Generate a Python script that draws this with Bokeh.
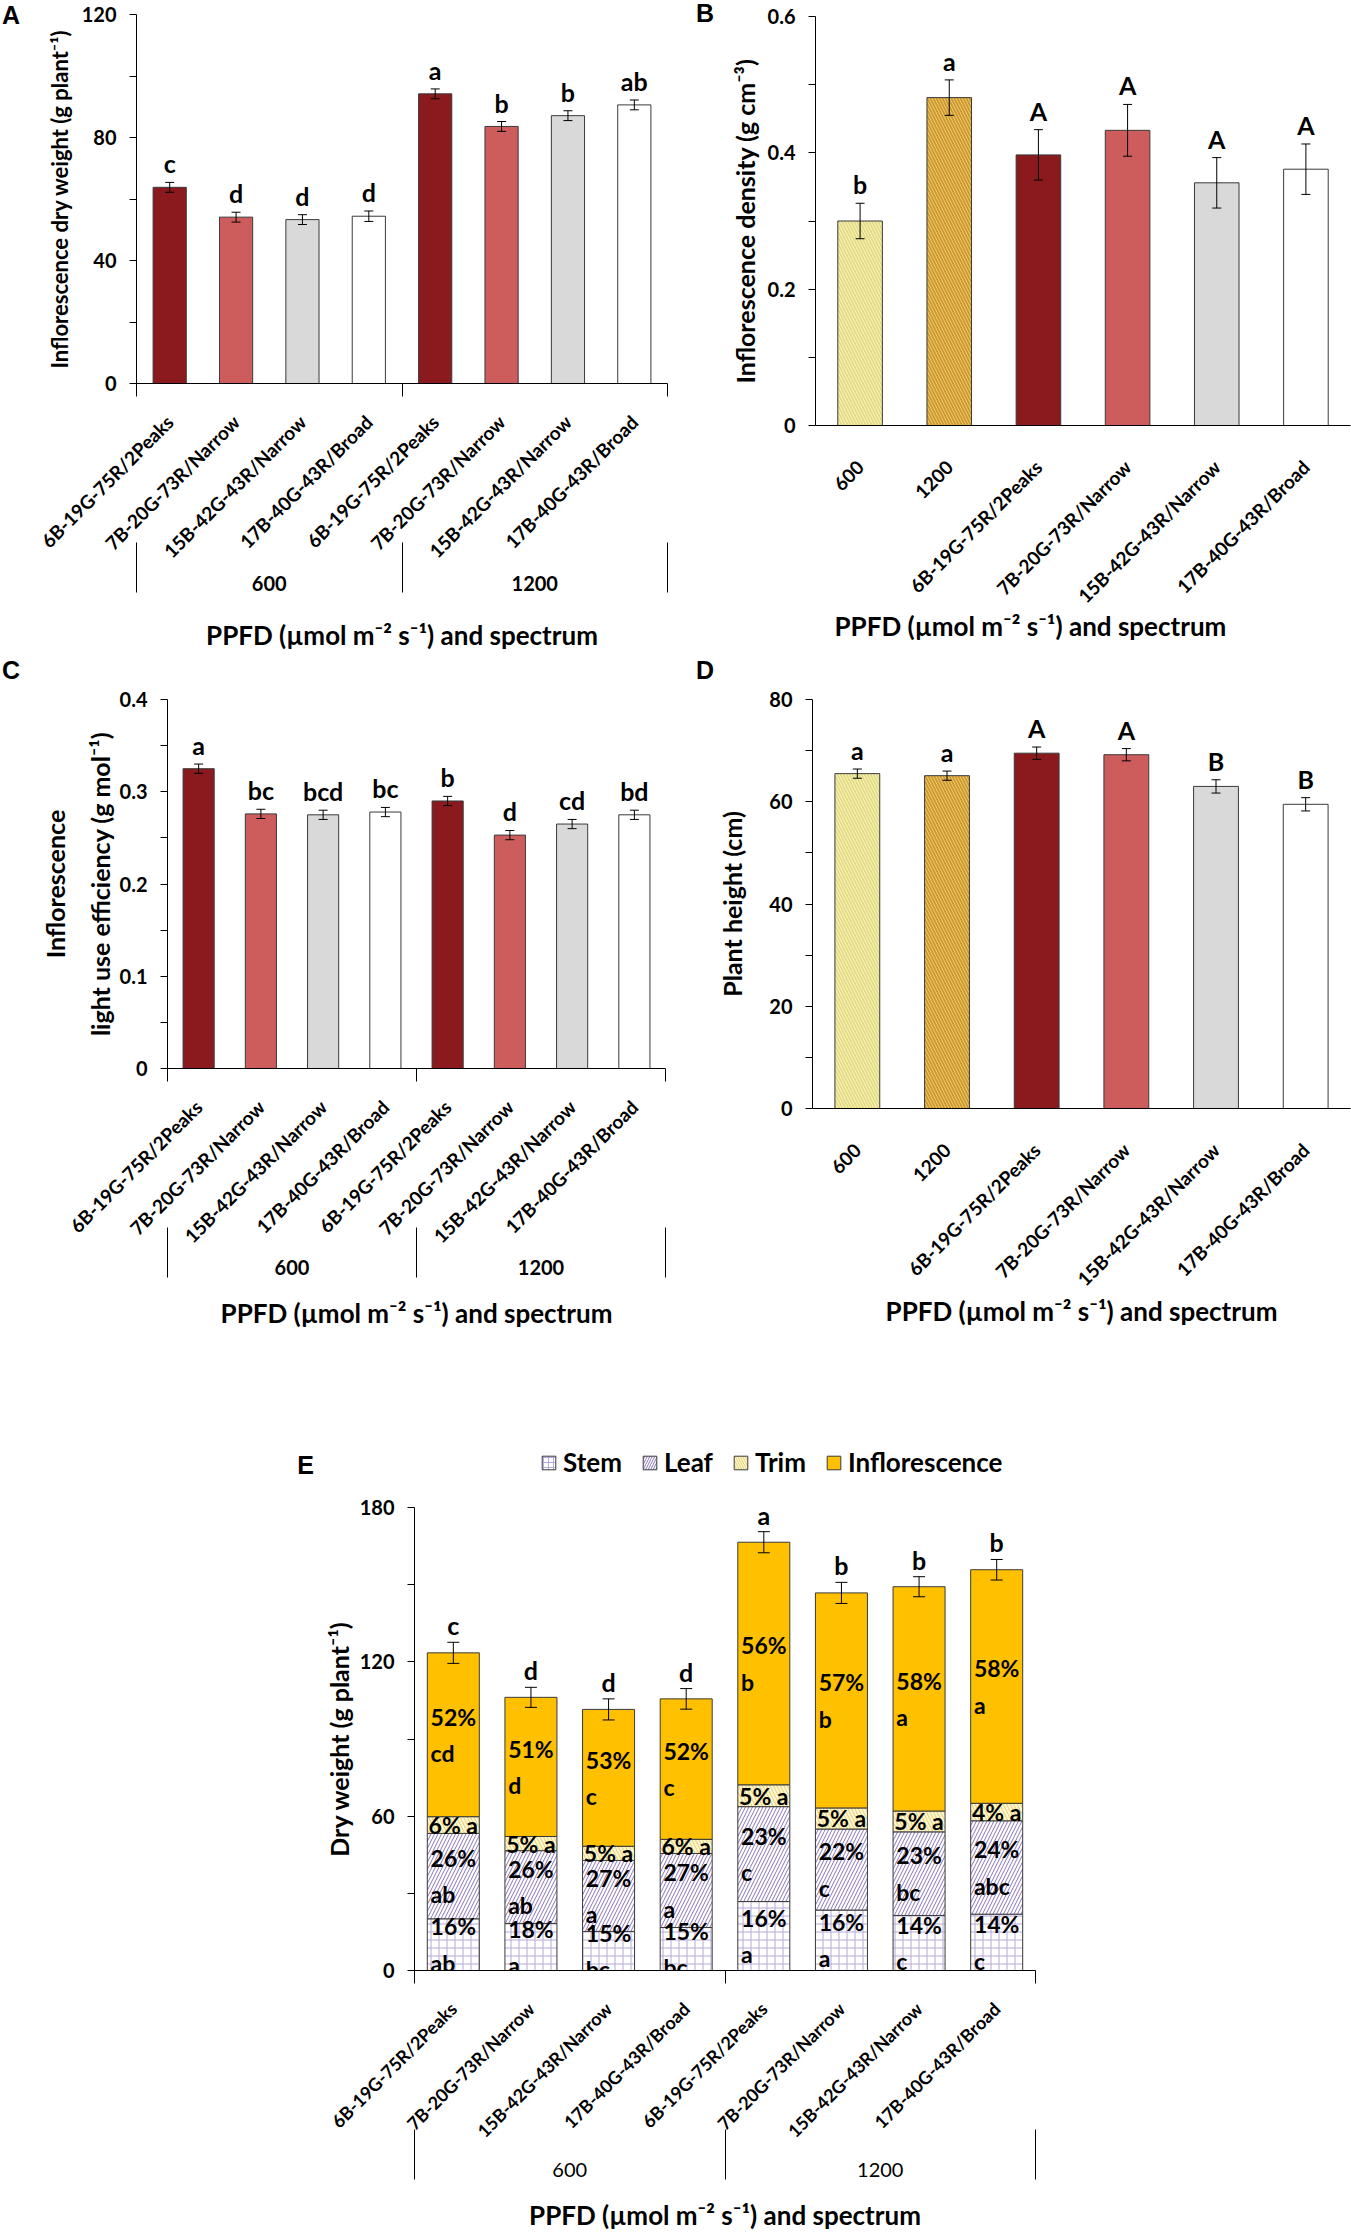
import numpy as np
from math import pi
from bokeh.plotting import figure
from bokeh.models import (Range1d, LinearAxis, FixedTicker, CustomJSTickFormatter, ColumnDataSource,
                          Whisker, TeeHead, LabelSet, Title, Legend, LegendItem, Div)
from bokeh.layouts import column, row
from bokeh.embed import file_html
from bokeh.resources import INLINE
from bokeh.core.properties import value

FONT = "Lato"
PANEL_FONT = "Liberation Sans"

# ---------------- data ----------------
spectra = ["6B-19G-75R/2Peaks", "7B-20G-73R/Narrow", "15B-42G-43R/Narrow", "17B-40G-43R/Broad"]
ppfd = ["600", "1200"]
x_title = "PPFD (µmol m⁻² s⁻¹) and spectrum"

# A: inflorescence dry weight (PPFD x spectrum)
a_values = [63.8, 54.1, 53.3, 54.4, 94.2, 83.6, 87.1, 90.6]
a_errors = [1.6, 1.6, 1.6, 1.7, 1.6, 1.6, 1.6, 1.6]
a_letters = ["c", "d", "d", "d", "a", "b", "b", "ab"]

# B: inflorescence density (main effects)
b_values = [0.300, 0.481, 0.397, 0.433, 0.356, 0.376]
b_errors = [0.026, 0.026, 0.037, 0.038, 0.037, 0.037]
b_letters = ["b", "a", "A", "A", "A", "A"]

# C: inflorescence light use efficiency
c_values = [0.325, 0.276, 0.275, 0.278, 0.290, 0.253, 0.265, 0.275]
c_errors = [0.005, 0.005, 0.005, 0.005, 0.005, 0.005, 0.005, 0.005]
c_letters = ["a", "bc", "bcd", "bc", "b", "d", "cd", "bd"]

# D: plant height (main effects)
d_values = [65.5, 65.1, 69.5, 69.2, 63.0, 59.5]
d_errors = [0.9, 0.9, 1.2, 1.2, 1.3, 1.3]
d_letters = ["a", "a", "A", "A", "B", "B"]

# E: dry weight partitioning
e_parts = ["Stem", "Leaf", "Trim", "Inflorescence"]
e_stem = [20.1, 18.3, 15.2, 16.7, 26.8, 23.5, 21.4, 21.9]
e_leaf = [33.2, 28.3, 27.6, 28.8, 36.9, 31.5, 32.5, 36.3]
e_trim = [6.5, 5.5, 5.5, 5.5, 8.5, 8.2, 8.1, 6.8]
e_infl = [63.7, 54.1, 53.2, 54.6, 94.3, 83.6, 87.2, 90.8]
e_errors = [4.1, 3.9, 4.1, 4.0, 4.1, 4.1, 3.9, 4.0]
e_letters = ["c", "d", "d", "d", "a", "b", "b", "b"]
e_stem_pct = [16, 18, 15, 15, 16, 16, 14, 14]
e_stem_let = ["ab", "a", "bc", "bc", "a", "a", "c", "c"]
e_leaf_pct = [26, 26, 27, 27, 23, 22, 23, 24]
e_leaf_let = ["ab", "ab", "a", "a", "c", "c", "bc", "abc"]
e_trim_pct = [6, 5, 5, 6, 5, 5, 5, 4]
e_trim_let = ["a", "a", "a", "a", "a", "a", "a", "a"]
e_infl_pct = [52, 51, 53, 52, 56, 57, 58, 58]
e_infl_let = ["cd", "d", "c", "c", "b", "b", "a", "a"]

# ---------------- styles ----------------
SPEC_COLORS = ["#8B1A1E", "#CD5C5C", "#D9D9D9", "#FFFFFF"]
PPFD_FILL = ["#FFFFCC", "#F6D98C"]
PPFD_HATCH = ["#E4DA86", "#CF982C"]
EDGE = "#3A3A3A"
E_FILL = ["#FFFFFF", "#FFFFFF", "#FFF6D2", "#FFC000"]
E_HATCH = ["cross", "right_diagonal_line", "left_diagonal_line", " "]
E_HATCH_COLOR = ["#B7A8DA", "#8A74B8", "#E2CF72", "#FFC000"]
E_HATCH_SCALE = [8, 7, 7, 7]


def make_fig(width, height, left, right, top, bottom, n, ymax):
    p = figure(width=width, height=height, x_range=Range1d(0, n), y_range=Range1d(0, ymax),
               output_backend="svg", toolbar_location=None,
               x_axis_location=None, y_axis_location=None,
               min_border_left=left, min_border_right=right,
               min_border_top=top, min_border_bottom=bottom)
    p.grid.visible = False
    p.outline_line_color = None
    p.background_fill_color = "white"
    p.border_fill_color = "white"
    return p


def letter_div(text, width, height, align, top):
    html = (f'<div style="font-family:\'{PANEL_FONT}\',Arial,sans-serif;font-size:25px;'
            f'font-weight:bold;line-height:25px;color:black;text-align:{align};'
            f'margin-top:{top}px;width:{width}px">{text}</div>')
    return Div(text=html, width=width, height=height, margin=(0, 0, 0, 0))


def add_yaxis(p, ticks, minor, label, label_standoff, tick_size="20px", lh=1.2, label_size="25px"):
    ax = LinearAxis(ticker=FixedTicker(ticks=ticks, minor_ticks=minor),
                    formatter=CustomJSTickFormatter(code="return String(tick);"),
                    axis_label=label, axis_label_standoff=label_standoff,
                    axis_label_text_font=FONT, axis_label_text_font_size=label_size,
                    axis_label_text_font_style="bold", axis_label_text_color="black",
                    axis_label_text_line_height=lh,
                    major_label_text_font=FONT, major_label_text_font_size=tick_size,
                    major_label_text_font_style="bold", major_label_text_color="black",
                    major_label_standoff=13,
                    axis_line_color="black", major_tick_line_color="black",
                    minor_tick_line_color="black",
                    major_tick_out=7, major_tick_in=0, minor_tick_out=7, minor_tick_in=0)
    p.add_layout(ax, "left")


def add_xaxis(p, labels, bounds, standoff, size="19px", label=None, label_standoff=0):
    centers = [i + 0.5 for i in range(len(labels))]
    kw = {}
    if label is not None:
        kw = dict(axis_label=label, axis_label_standoff=label_standoff,
                  axis_label_text_font=FONT, axis_label_text_font_size="26px",
                  axis_label_text_font_style="bold", axis_label_text_color="black")
    ax = LinearAxis(ticker=FixedTicker(ticks=centers, minor_ticks=bounds),
                    formatter=CustomJSTickFormatter(args=dict(labels=labels),
                                                    code="return labels[Math.floor(tick)];"),
                    major_label_orientation=pi / 4,
                    major_label_text_font=FONT, major_label_text_font_size=size,
                    major_label_text_font_style="bold", major_label_text_color="black",
                    major_label_standoff=standoff,
                    axis_line_color="black", minor_tick_line_color="black",
                    major_tick_out=0, major_tick_in=0,
                    minor_tick_out=13 if bounds else 0, minor_tick_in=0, **kw)
    p.add_layout(ax, "below")


def add_group_axis(p, groups, per, tick_in, tick_out, standoff, label, label_standoff, style="bold"):
    centers = [per * (g + 0.5) for g in range(len(groups))]
    bounds = [per * g for g in range(len(groups) + 1)]
    ax = LinearAxis(ticker=FixedTicker(ticks=centers, minor_ticks=bounds),
                    formatter=CustomJSTickFormatter(args=dict(labels=groups, per=per),
                                                    code="return labels[Math.floor(tick / per)];"),
                    axis_line_color=None, minor_tick_line_color="black",
                    major_tick_out=0, major_tick_in=0,
                    minor_tick_out=tick_out, minor_tick_in=tick_in,
                    major_label_text_font=FONT, major_label_text_font_size="20px",
                    major_label_text_font_style=style, major_label_text_color="black",
                    major_label_standoff=standoff,
                    axis_label=label, axis_label_standoff=label_standoff,
                    axis_label_text_font=FONT, axis_label_text_font_size="26px",
                    axis_label_text_font_style="bold", axis_label_text_color="black")
    p.add_layout(ax, "below")


def add_err_letters(p, xs, tops, errs, letters, size="25px", offset=4, head=9):
    tops = np.asarray(tops, dtype=float)
    errs = np.asarray(errs, dtype=float)
    src = ColumnDataSource(dict(x=xs, upper=tops + errs, lower=tops - errs, letter=letters))
    w = Whisker(source=src, base="x", upper="upper", lower="lower", level="overlay",
                line_color="black", line_width=1,
                upper_head=TeeHead(size=head, line_color="black", line_width=1),
                lower_head=TeeHead(size=head, line_color="black", line_width=1))
    p.add_layout(w)
    p.add_layout(LabelSet(source=src, x="x", y="upper", text="letter",
                          text_align=value("center"), text_baseline=value("bottom"), y_offset=offset,
                          text_font=value(FONT), text_font_size=value(size),
                          text_font_style=value("bold"), text_color=value("black")))


def spectrum_bars(p, xs, vals, colors, width):
    src = ColumnDataSource(dict(x=xs, top=vals, color=colors))
    p.vbar(x="x", top="top", width=width, source=src, fill_color="color",
           line_color=EDGE, line_width=1)


def ppfd_bars(p, xs, vals):
    src = ColumnDataSource(dict(x=xs, top=vals, fill=PPFD_FILL, hatch=PPFD_HATCH))
    p.vbar(x="x", top="top", width=0.5, source=src, fill_color="fill", line_color=EDGE, line_width=1,
           hatch_pattern="left_diagonal_line", hatch_color="hatch", hatch_scale=6, hatch_weight=2)


# ---------------- Panel A ----------------
cats_ab = spectra + spectra
pA = make_fig(653, 658, 114, 8, 14, 275, len(cats_ab), 120)
xa = np.arange(len(a_values)) + 0.5
spectrum_bars(pA, xa, a_values, SPEC_COLORS * len(ppfd), 0.5)
add_err_letters(pA, xa, a_values, a_errors, a_letters)
add_yaxis(pA, [0, 40, 80, 120], [20, 60, 100], "Inflorescence dry weight (g plant⁻¹)", 6,
          label_size="22px")
add_xaxis(pA, cats_ab, [0, len(spectra), len(cats_ab)], 22)
add_group_axis(pA, ppfd, len(spectra), 31, 19, -17, x_title, 25)
dA = letter_div("A", 22, 658, "center", 3)

# ---------------- Panel B ----------------
cats_b = ppfd + spectra
pB = make_fig(637, 658, 101, 1, 16, 233, len(cats_b), 0.6)
xb = np.arange(len(b_values)) + 0.5
ppfd_bars(pB, xb[:len(ppfd)], b_values[:len(ppfd)])
spectrum_bars(pB, xb[len(ppfd):], b_values[len(ppfd):], SPEC_COLORS, 0.5)
add_err_letters(pB, xb, b_values, b_errors, b_letters)
add_yaxis(pB, [0, 0.2, 0.4, 0.6], [0.1, 0.3, 0.5], "Inflorescence density (g cm⁻³)", 5)
add_xaxis(pB, cats_b, [], 38)
pB.add_layout(Title(text=x_title, align="left", offset=19, standoff=-21, text_font=FONT,
                    text_font_size="26px", text_font_style="bold", text_color="black"), "below")
dB = letter_div("B", 39, 658, "right", 1)

# ---------------- Panel C ----------------
pC = make_fig(653, 682, 145, 10, 41, 272, len(cats_ab), 0.4)
xc = np.arange(len(c_values)) + 0.5
spectrum_bars(pC, xc, c_values, SPEC_COLORS * len(ppfd), 0.5)
add_err_letters(pC, xc, c_values, c_errors, c_letters)
add_yaxis(pC, [0, 0.1, 0.2, 0.3, 0.4], [0.05, 0.15, 0.25, 0.35],
          "Inflorescence\nlight use efficiency (g mol⁻¹)", 2, lh=1.5)
add_xaxis(pC, cats_ab, [0, len(spectra), len(cats_ab)], 22)
add_group_axis(pC, ppfd, len(spectra), 31, 19, -18, x_title, 19)
dC = letter_div("C", 22, 682, "center", 0)

# ---------------- Panel D ----------------
pD = make_fig(637, 682, 97, 1, 41, 232, len(cats_b), 80)
xd = np.arange(len(d_values)) + 0.5
ppfd_bars(pD, xd[:len(ppfd)], d_values[:len(ppfd)])
spectrum_bars(pD, xd[len(ppfd):], d_values[len(ppfd):], SPEC_COLORS, 0.5)
add_err_letters(pD, xd, d_values, d_errors, d_letters)
add_yaxis(pD, [0, 20, 40, 60, 80], [10, 30, 50, 70], "Plant height (cm)", 19)
add_xaxis(pD, cats_b, [], 38, label=x_title, label_standoff=-6)
dD = letter_div("D", 39, 682, "right", 0)

# ---------------- Panel E ----------------
pE = make_fig(1037, 742, 100, 316, 12, 267, len(cats_ab), 180)
xe = np.arange(len(e_stem)) + 0.5
esrc = ColumnDataSource(dict(x=xe, Stem=e_stem, Leaf=e_leaf, Trim=e_trim, Inflorescence=e_infl))
pE.vbar_stack(e_parts, x="x", width=0.67, source=esrc,
              fill_color=E_FILL, line_color=EDGE, line_width=1,
              hatch_pattern=E_HATCH, hatch_color=E_HATCH_COLOR,
              hatch_scale=E_HATCH_SCALE, hatch_weight=[1, 1, 1, 1])
stack = np.vstack([e_stem, e_leaf, e_trim, e_infl])
cum = np.cumsum(stack, axis=0)
mids = cum - stack / 2
pct_rows = [e_stem_pct, e_leaf_pct, e_trim_pct, e_infl_pct]
let_rows = [e_stem_let, e_leaf_let, e_trim_let, e_infl_let]
seps = ["\n", "\n", " ", "\n"]
for k in range(len(e_parts)):
    texts = [f"{pc}%{seps[k]}{lt}" for pc, lt in zip(pct_rows[k], let_rows[k])]
    lsrc = ColumnDataSource(dict(x=xe, y=mids[k], t=texts))
    pE.add_layout(LabelSet(source=lsrc, x="x", y="y", text="t", text_align=value("center"),
                           text_baseline=value("middle"), text_font=value(FONT),
                           text_font_size=value("23px"), text_font_style=value("bold"),
                           text_color=value("black"), text_line_height=value(1.3)))
add_err_letters(pE, xe, cum[-1], e_errors, e_letters, offset=2, head=12)
add_yaxis(pE, [0, 60, 120, 180], [30, 90, 150], "Dry weight (g plant⁻¹)", 3)
add_xaxis(pE, cats_ab, [0, len(spectra), len(cats_ab)], 22, size="18px")
add_group_axis(pE, ppfd, len(spectra), 23, 27, -17, x_title, 19, style="normal")

# legend strip above panel E: hidden copies of the stacked bars provide the legend keys
pLeg = figure(width=1037, height=155, x_range=Range1d(0, len(cats_ab)), y_range=Range1d(0, 180),
              output_backend="svg", toolbar_location=None,
              x_axis_location=None, y_axis_location=None,
              min_border_left=100, min_border_right=316, min_border_top=0, min_border_bottom=0)
pLeg.grid.visible = False
pLeg.outline_line_color = None
leg_renderers = pLeg.vbar_stack(e_parts, x="x", width=0.67, source=esrc,
                                fill_color=E_FILL, line_color=EDGE, line_width=1,
                                hatch_pattern=E_HATCH, hatch_color=E_HATCH_COLOR,
                                hatch_scale=[5, 5, 5, 5], hatch_weight=[1, 1, 1, 1])
for r in leg_renderers:
    r.visible = False
pLeg.add_layout(Legend(items=[LegendItem(label=n, renderers=[r]) for n, r in zip(e_parts, leg_renderers)],
                       location=(126, 17), orientation="horizontal", click_policy="none",
                       margin=0, padding=0, background_fill_alpha=0, border_line_color=None,
                       inactive_fill_alpha=0,
                       label_text_font=FONT, label_text_font_size="26px",
                       label_text_font_style="bold", label_text_color="black",
                       glyph_width=17, glyph_height=17, label_standoff=6, spacing=19))
dE = letter_div("E", 314, 897, "right", 113)

layout = column(row(dA, column(pA), dB, column(pB)),
                row(dC, column(pC), dD, column(pD)),
                row(dE, column(pLeg, pE)))
open("out.html", "w").write(file_html(layout, INLINE))
